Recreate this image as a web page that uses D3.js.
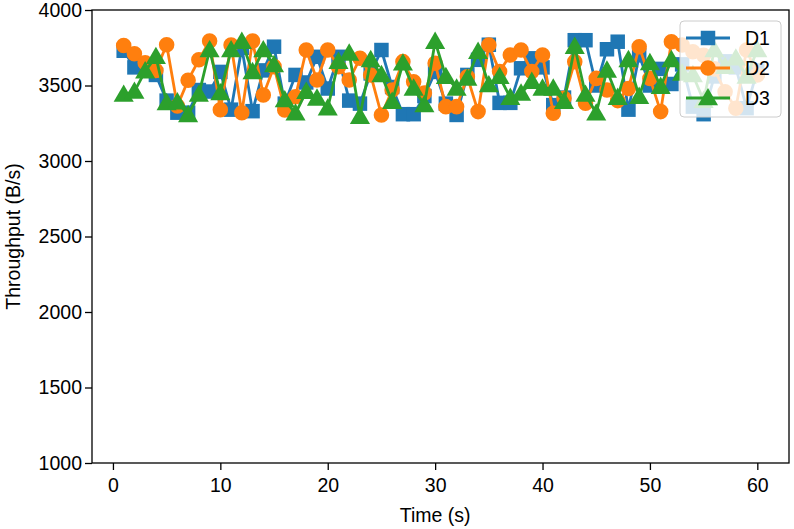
<!DOCTYPE html>
<html>
<head>
<meta charset="utf-8">
<script src="https://cdn.jsdelivr.net/npm/d3@7"></script>
<style>
  body { margin: 0; background: #fff; }
  text { font-family: "Liberation Sans", Arial, sans-serif; }
</style>
</head>
<body>
<div id="chart"></div>
<script>
// time steps (s)
const times = d3.range(1, 61);

// throughput per device (B/s)
const d1 = [3730, 3620, 3640, 3570, 3400, 3320, 3320, 3470, 3460, 3590,
            3340, 3750, 3330, 3600, 3757, 3380, 3570, 3520, 3690, 3480,
            3690, 3400, 3380, 3580, 3735, 3490, 3310, 3310, 3430, 3590,
            3380, 3305, 3570, 3670, 3770, 3385, 3385, 3614, 3680, 3620,
            3370, 3420, 3800, 3800, 3500, 3740, 3790, 3340, 3700, 3500,
            3610, 3510, 3640, 3360, 3310, 3560, 3660, 3620, 3350, 3600];
const d2 = [3765, 3710, 3650, 3600, 3770, 3365, 3535, 3670, 3795, 3340,
            3768, 3320, 3795, 3437, 3625, 3338, 3426, 3735, 3536, 3735,
            3625, 3536, 3680, 3570, 3305, 3470, 3658, 3525, 3450, 3647,
            3360, 3360, 3558, 3327, 3768, 3592, 3702, 3735, 3592, 3702,
            3316, 3415, 3658, 3382, 3547, 3470, 3400, 3480, 3757, 3547,
            3327, 3790, 3768, 3724, 3700, 3610, 3459, 3349, 3735, 3570];
const d3s = [3440, 3460, 3595, 3690, 3385, 3390, 3305, 3440, 3735, 3450,
            3735, 3790, 3590, 3735, 3636, 3404, 3316, 3459, 3415, 3349,
            3658, 3713, 3294, 3669, 3570, 3393, 3647, 3481, 3371, 3790,
            3558, 3481, 3547, 3724, 3503, 3558, 3420, 3448, 3525, 3481,
            3481, 3393, 3757, 3440, 3316, 3600, 3420, 3669, 3426, 3650,
            3492, 3669, 3580, 3570, 3400, 3735, 3625, 3680, 3560, 3735];

const seriesNames = ["D1", "D2", "D3"];
const seriesValues = [d1, d2, d3s];
const colors = ["#1f77b4", "#ff7f0e", "#2ca02c"];
const markers = [d3.symbolSquare, d3.symbolCircle, d3.symbolTriangle];

const xTicks = [0, 10, 20, 30, 40, 50, 60];
const yTicks = [1000, 1500, 2000, 2500, 3000, 3500, 4000];

const width = 794, height = 529;
const margin = {top: 10, right: 5, bottom: 66, left: 92};
const fontSize = 19.5;

const svg = d3.select("#chart").append("svg")
    .attr("width", width).attr("height", height);

const x = d3.scaleLinear().domain([-1.95, 62.95])
    .range([margin.left, width - margin.right]);
const y = d3.scaleLinear().domain([1000, 4000])
    .range([height - margin.bottom, margin.top]);

const plot = svg.append("g");

// series: line then markers, one after the other
const line = d3.line().x((d, i) => x(times[i])).y(d => y(d));
const markerSize = [210, 190, 175];

seriesValues.forEach((vals, s) => {
    const g = plot.append("g");
    g.append("path")
        .datum(vals)
        .attr("d", line)
        .attr("fill", "none")
        .attr("stroke", colors[s])
        .attr("stroke-width", 2.8)
        .attr("stroke-linejoin", "round");
    g.selectAll("path.mk")
        .data(vals)
        .join("path")
        .attr("class", "mk")
        .attr("transform", (d, i) => `translate(${x(times[i])},${y(d) + (s === 2 ? 1.5 : 0)})`)
        .attr("d", d3.symbol().type(markers[s]).size(markerSize[s]))
        .attr("fill", colors[s]);
});

// axes
const xAxis = svg.append("g")
    .attr("transform", `translate(0,${height - margin.bottom})`)
    .call(d3.axisBottom(x).tickValues(xTicks).tickSize(7).tickPadding(8));
const yAxis = svg.append("g")
    .attr("transform", `translate(${margin.left},0)`)
    .call(d3.axisLeft(y).tickValues(yTicks).tickSize(7).tickPadding(3).tickFormat(d3.format("d")));

[xAxis, yAxis].forEach(a => {
    a.select(".domain").remove();
    a.selectAll("line").attr("stroke", "#000").attr("stroke-width", 1.3);
    a.selectAll("text").attr("font-size", fontSize).attr("fill", "#000")
        .attr("font-family", "'Liberation Sans', Arial, sans-serif");
});

// frame
svg.append("rect")
    .attr("x", margin.left).attr("y", margin.top)
    .attr("width", width - margin.left - margin.right)
    .attr("height", height - margin.top - margin.bottom)
    .attr("fill", "none").attr("stroke", "#000").attr("stroke-width", 1.3);

// axis labels
svg.append("text")
    .attr("x", x(30)).attr("y", 522)
    .attr("text-anchor", "middle").attr("font-size", fontSize)
    .text("Time (s)");
svg.append("text")
    .attr("transform", `translate(20,${y(2500)}) rotate(-90)`)
    .attr("text-anchor", "middle").attr("font-size", fontSize)
    .text("Throughput (B/s)");

// legend
const legendG = svg.append("g").attr("transform", "translate(680,21)");
legendG.append("rect")
    .attr("width", 101).attr("height", 96).attr("rx", 4)
    .attr("fill", "rgba(255,255,255,0.8)")
    .attr("stroke", "#cccccc").attr("stroke-width", 1);

const legend = legendG.selectAll("g.legendItem")
    .data(seriesNames)
    .join("g")
    .attr("class", "legendItem")
    .attr("transform", (d, i) => `translate(0,${17 + i * 30})`);

legend.append("line")
    .attr("x1", 6).attr("x2", 50)
    .attr("stroke", (d, i) => colors[i]).attr("stroke-width", 2.8);
legend.append("path")
    .attr("transform", (d, i) => `translate(28,${i === 2 ? 1.5 : 0})`)
    .attr("d", (d, i) => d3.symbol().type(markers[i]).size(markerSize[i])())
    .attr("fill", (d, i) => colors[i]);
legend.append("text")
    .attr("x", 65).attr("y", 7)
    .attr("font-size", fontSize)
    .text(d => d);
</script>
</body>
</html>
